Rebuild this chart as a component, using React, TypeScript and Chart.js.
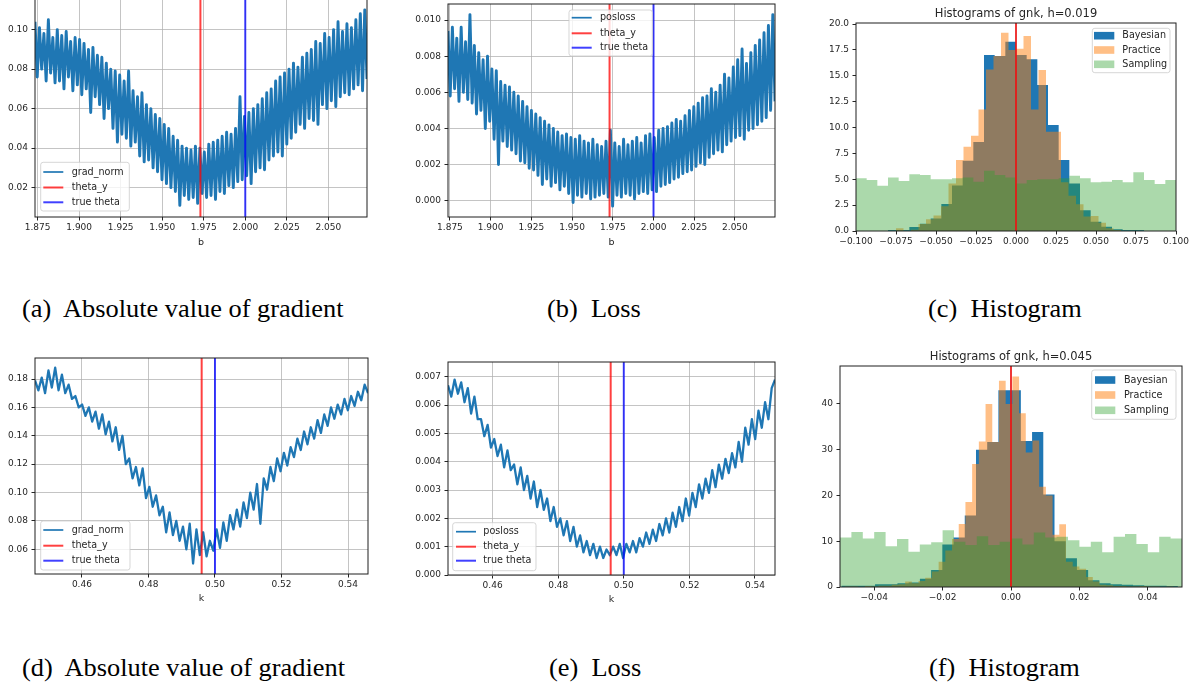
import React, { useEffect, useRef } from "react";
import { Chart, registerables } from "chart.js";

Chart.register(...registerables);
Chart.defaults.font.family = "'DejaVu Sans', sans-serif";

// ---------------- data ----------------
const B_RANGE_A = [1.8734, 2.0733];
const B_RANGE_B = [1.8738, 2.0746];
const K_RANGE_D = [0.4459, 0.546];
const K_RANGE_E = [0.4464, 0.5461];

const THETA_Y_B = 1.973;
const TRUE_THETA_B = 2.0;
const THETA_Y_K = 0.496;
const TRUE_THETA_K = 0.5;

// grad_norm vs b (panel a)
const GRAD_NORM_B = [
  0.104, 0.076, 0.101, 0.080, 0.098, 0.074, 0.105, 0.078, 0.096, 0.073,
  0.100, 0.074, 0.097, 0.070, 0.099, 0.076, 0.094, 0.069, 0.096, 0.072,
  0.095, 0.067, 0.093, 0.070, 0.090, 0.058, 0.091, 0.066, 0.087, 0.062,
  0.086, 0.055, 0.083, 0.060, 0.080, 0.050, 0.079, 0.043, 0.077, 0.047,
  0.074, 0.045, 0.079, 0.041, 0.069, 0.043, 0.066, 0.036, 0.068, 0.033,
  0.062, 0.034, 0.060, 0.030, 0.057, 0.028, 0.055, 0.024, 0.052, 0.022,
  0.050, 0.020, 0.046, 0.018, 0.044, 0.011, 0.041, 0.016, 0.040, 0.014,
  0.039, 0.015, 0.041, 0.012, 0.040, 0.017, 0.038, 0.015, 0.042, 0.016,
  0.043, 0.014, 0.044, 0.018, 0.046, 0.017, 0.048, 0.021, 0.047, 0.020,
  0.050, 0.023, 0.066, 0.024, 0.056, 0.026, 0.058, 0.022, 0.060, 0.028,
  0.062, 0.030, 0.065, 0.029, 0.068, 0.034, 0.070, 0.036, 0.074, 0.038,
  0.076, 0.036, 0.078, 0.042, 0.080, 0.045, 0.083, 0.048, 0.081, 0.052,
  0.086, 0.050, 0.088, 0.055, 0.090, 0.054, 0.094, 0.052, 0.093, 0.062,
  0.098, 0.060, 0.096, 0.064, 0.100, 0.061, 0.104, 0.066, 0.099, 0.068,
  0.103, 0.067, 0.101, 0.070, 0.105, 0.072, 0.108, 0.069, 0.110, 0.075,
];

// posloss vs b (panel b)
const POSLOSS_B = [
  0.0094, 0.0058, 0.0096, 0.0062, 0.0090, 0.0055, 0.0096, 0.0060, 0.0088, 0.0056,
  0.0103, 0.0054, 0.0086, 0.0048, 0.0082, 0.0050, 0.0078, 0.0040, 0.0080, 0.0044,
  0.0073, 0.0034, 0.0072, 0.0020, 0.0066, 0.0033, 0.0064, 0.0030, 0.0063, 0.0028,
  0.0060, 0.0026, 0.0058, 0.0022, 0.0055, 0.0021, 0.0052, 0.0018, 0.0050, 0.0017,
  0.0048, 0.0014, 0.0046, 0.0009, 0.0044, 0.0012, 0.0042, 0.0008, 0.0040, 0.0010,
  0.0038, 0.0006, 0.0036, 0.0008, 0.0037, 0.0004, 0.0035, -0.0001, 0.0034, 0.0003,
  0.0036, 0.0002, 0.0033, 0.0004, 0.0032, 0.0001, 0.0034, 0.0002, 0.0031, 0.0003,
  0.0030, 0.0004, 0.0033, 0.0002, 0.0039, -0.0003, 0.0032, 0.0003, 0.0030, 0.0002,
  0.0034, 0.0004, 0.0031, 0.0003, 0.0033, 0.0001, 0.0035, 0.0004, 0.0032, 0.0005,
  0.0036, 0.0004, 0.0037, 0.0006, 0.0035, 0.0005, 0.0039, 0.0008, 0.0040, 0.0009,
  0.0041, 0.0010, 0.0043, 0.0012, 0.0045, 0.0013, 0.0044, 0.0015, 0.0047, 0.0016,
  0.0050, 0.0017, 0.0052, 0.0019, 0.0054, 0.0021, 0.0057, 0.0020, 0.0058, 0.0024,
  0.0062, 0.0026, 0.0060, 0.0028, 0.0064, 0.0027, 0.0070, 0.0031, 0.0068, 0.0033,
  0.0074, 0.0035, 0.0078, 0.0036, 0.0084, 0.0034, 0.0076, 0.0039, 0.0082, 0.0040,
  0.0086, 0.0042, 0.0089, 0.0044, 0.0093, 0.0046, 0.0097, 0.0050, 0.0103, 0.0055,
];

// grad_norm vs k (panel d)
const GRAD_NORM_K = [
  0.179, 0.172, 0.181, 0.170, 0.186, 0.174, 0.188, 0.172, 0.183, 0.170,
  0.176, 0.166, 0.168, 0.160, 0.162, 0.154, 0.160, 0.150, 0.157, 0.145,
  0.155, 0.141, 0.150, 0.136, 0.146, 0.130, 0.140, 0.120, 0.124, 0.110,
  0.118, 0.105, 0.117, 0.096, 0.104, 0.090, 0.098, 0.084, 0.090, 0.072,
  0.086, 0.070, 0.080, 0.066, 0.076, 0.060, 0.078, 0.050, 0.074, 0.056,
  0.072, 0.055, 0.066, 0.059, 0.074, 0.061, 0.079, 0.066, 0.084, 0.074,
  0.088, 0.076, 0.093, 0.082, 0.100, 0.088, 0.106, 0.078, 0.110, 0.102,
  0.118, 0.108, 0.124, 0.115, 0.128, 0.119, 0.132, 0.125, 0.138, 0.130,
  0.143, 0.134, 0.146, 0.138, 0.151, 0.142, 0.155, 0.147, 0.160, 0.152,
  0.162, 0.155, 0.166, 0.158, 0.168, 0.161, 0.171, 0.165, 0.176, 0.170,
];

// posloss vs k (panel e)
const POSLOSS_K = [
  0.0067, 0.0063, 0.0069, 0.0064, 0.0068, 0.0061, 0.0066, 0.0057, 0.0063, 0.0055,
  0.0055, 0.0049, 0.0053, 0.0045, 0.0048, 0.0042, 0.0046, 0.0038, 0.0044, 0.0037,
  0.0039, 0.0032, 0.0038, 0.0030, 0.0035, 0.0027, 0.0033, 0.0024, 0.0030, 0.0023,
  0.0027, 0.0019, 0.0024, 0.0017, 0.0020, 0.0014, 0.0019, 0.0012, 0.0017, 0.0010,
  0.0014, 0.0008, 0.0012, 0.0007, 0.0011, 0.0006, 0.0010, 0.0006, 0.0009, 0.0007,
  0.0010, 0.0007, 0.0011, 0.0006, 0.0011, 0.0008, 0.0012, 0.0008, 0.0013, 0.0010,
  0.0015, 0.0011, 0.0016, 0.0012, 0.0018, 0.0014, 0.0020, 0.0015, 0.0022, 0.0017,
  0.0024, 0.0019, 0.0027, 0.0021, 0.0029, 0.0024, 0.0032, 0.0027, 0.0034, 0.0029,
  0.0037, 0.0031, 0.0039, 0.0034, 0.0041, 0.0036, 0.0043, 0.0038, 0.0047, 0.0040,
  0.0052, 0.0046, 0.0055, 0.0048, 0.0058, 0.0052, 0.0061, 0.0055, 0.0066, 0.0069,
];

// histograms, h = 0.019 (panel c): bin range + counts (density)
const C_BAYES_RANGE = [-0.08, 0.08];
const C_BAYES = [0.1, 0.1, 0.39, 0.7, 1.22, 2.6, 4.4, 6.8, 8.6, 17.0, 16.9, 18.3, 17.0, 16.6, 14.1, 10.24, 6.86, 4.6, 2.0, 0.9, 0.42, 0.16, 0.1, 0.1];
const C_PRACTICE_RANGE = [-0.075, 0.075];
const C_PRACTICE = [0.26, 0, 0.13, 0.68, 1.13, 1.5, 2.4, 4.6, 6.86, 8.15, 9.2, 11.75, 15.6, 16.9, 19.16, 17.5, 17.6, 18.84, 11.75, 15.55, 9.6, 9.6, 4.7, 3.4, 2.58, 1.4, 1.45, 0.8, 0.26, 0.1, 0, 0];
const C_SAMPLING_RANGE = [-0.1, 0.1];
const C_SAMPLING = [5.09, 4.93, 4.38, 5.18, 4.83, 5.48, 5.41, 4.99, 4.99, 5.09, 5.18, 4.77, 5.83, 5.41, 5.18, 4.6, 4.93, 4.99, 4.99, 5.09, 5.35, 5.09, 4.7, 4.77, 4.93, 4.7, 5.67, 4.93, 4.54, 4.93];

// histograms, h = 0.045 (panel f)
const F_BAYES_RANGE = [-0.0496, 0.0488];
const F_BAYES = [0.3, 0.3, 0.3, 0.6, 0.6, 0.8, 1.0, 1.8, 3.7, 9.3, 10.8, 15.6, 30.0, 31.7, 43.0, 43.0, 31.9, 33.9, 20.2, 10.0, 6.3, 3.7, 1.5, 0.8, 0.6, 0.5, 0.4, 0.3, 0.3, 0.2];
const F_PRACTICE_RANGE = [-0.0486, 0.0494];
const F_PRACTICE = [
  0.1, 0.1, 0, 0.2, 0.1, 0.3, 0.3, 0.5, 0.6, 1.2,
  0.8, 1.3, 2.0, 3.4, 5.5, 8.0, 10.5, 13.75, 18.6, 26.9,
  31.8, 40.0, 31.7, 45.1, 40.0, 46.0, 38.0, 29.4, 32.0, 21.9,
  20.0, 11.4, 13.7, 5.5, 4.5, 4.0, 2.2, 1.2, 0.5, 0.4,
  0.2, 0.2, 0.1, 0.1, 0.2, 0.1, 0.1, 0, 0.1, 0,
];
const F_SAMPLING_RANGE = [-0.05, 0.05];
const F_SAMPLING = [10.8, 12.0, 10.6, 12.0, 8.9, 10.5, 7.7, 9.3, 9.8, 12.4, 9.9, 9.2, 11.1, 9.2, 9.9, 10.6, 9.3, 11.9, 10.8, 11.0, 10.2, 8.8, 9.9, 7.6, 11.0, 11.6, 9.4, 7.6, 11.0, 10.6];
const THETA_HIST = 0.0;

// ticks
const X_TICKS_B = [1.875, 1.9, 1.925, 1.95, 1.975, 2.0, 2.025, 2.05];
const Y_TICKS_A = [0.02, 0.04, 0.06, 0.08, 0.1];
const Y_TICKS_B = [0, 0.002, 0.004, 0.006, 0.008, 0.01];
const X_TICKS_C = [-0.1, -0.075, -0.05, -0.025, 0, 0.025, 0.05, 0.075, 0.1];
const Y_TICKS_C = [0, 2.5, 5, 7.5, 10, 12.5, 15, 17.5, 20];
const X_TICKS_K = [0.46, 0.48, 0.5, 0.52, 0.54];
const Y_TICKS_D = [0.06, 0.08, 0.1, 0.12, 0.14, 0.16, 0.18];
const Y_TICKS_E = [0, 0.001, 0.002, 0.003, 0.004, 0.005, 0.006, 0.007];
const X_TICKS_F = [-0.04, -0.02, 0, 0.02, 0.04];
const Y_TICKS_F = [0, 10, 20, 30, 40];

const CAPTIONS = [
  "(a)  Absolute value of gradient",
  "(b)  Loss",
  "(c)  Histogram",
  "(d)  Absolute value of gradient",
  "(e)  Loss",
  "(f)  Histogram",
];

// ---------------- helpers ----------------
const C0 = "#1f77b4";
const RED = "rgba(255,0,0,0.75)";
const BLUE = "rgba(0,0,255,0.75)";
const PRACTICE_COL = "rgba(255,127,14,0.5)";
const SAMPLING_COL = "rgba(44,160,44,0.4)";
const TEXT = "#262626";

const fmt = (v: number, d: number) => (v < -1e-12 ? "\u2212" : "") + Math.abs(v).toFixed(d);

function lineSeries(range: number[], values: number[]) {
  const n = values.length;
  return values.map((y, i) => ({ x: range[0] + ((range[1] - range[0]) * i) / (n - 1), y }));
}

function histSeries(range: number[], counts: number[]) {
  const n = counts.length;
  const w = (range[1] - range[0]) / n;
  const pts = counts.map((c, i) => ({ x: range[0] + i * w, y: c }));
  pts.push({ x: range[1], y: counts[n - 1] });
  return pts;
}

function vline(x: number, yr: number[]) {
  return [{ x, y: yr[0] }, { x, y: yr[1] }];
}

type LegendCfg = {
  box: number[];
  rows: number[];
  handleX: number;
  handleW: number;
  textX: number;
  items: { ds: number; type: "line" | "patch" }[];
};

type Panel = {
  canvas: { left: number; top: number; w: number; h: number };
  pad: { left: number; top: number; right: number; bottom: number };
  yAxisW: number;
  xAxisH: number;
  xRange: number[];
  yRange: number[];
  xTicks: number[];
  yTicks: number[];
  xDec: number;
  yDec: number;
  xLabel?: string;
  title?: string;
  grid: boolean;
  datasets: any[];
  legend: LegendCfg;
};

function lineDatasets(label: string, range: number[], values: number[], thetaY: number, trueTheta: number, yr: number[], lw: number) {
  return [
    { label, data: lineSeries(range, values), borderColor: C0, borderWidth: lw, pointRadius: 0, borderJoinStyle: "round", fill: false, order: 2 },
    { label: "theta_y", data: vline(thetaY, yr), borderColor: RED, borderWidth: 2, pointRadius: 0, fill: false, order: 1 },
    { label: "true theta", data: vline(trueTheta, yr), borderColor: BLUE, borderWidth: 2, pointRadius: 0, fill: false, order: 0 },
  ];
}

function histDatasets(b: number[], br: number[], p: number[], pr: number[], s: number[], sr: number[], theta: number, yr: number[]) {
  const base = { borderColor: "rgba(0,0,0,0)", borderWidth: 0, pointRadius: 0, stepped: true, fill: "origin" };
  return [
    { ...base, label: "Bayesian", data: histSeries(br, b), backgroundColor: C0, order: 3 },
    { ...base, label: "Practice", data: histSeries(pr, p), backgroundColor: PRACTICE_COL, order: 2 },
    { ...base, label: "Sampling", data: histSeries(sr, s), backgroundColor: SAMPLING_COL, order: 1 },
    { label: "theta", data: vline(theta, yr), borderColor: "rgba(235,20,20,0.85)", borderWidth: 2, pointRadius: 0, fill: false, order: 0 },
  ];
}

const YR_A = [0.0051, 0.116];
const YR_B = [-0.000903, 0.01089];
const YR_C = [0, 20.1];
const YR_D = [0.0426, 0.1948];
const YR_E = [0, 0.00752];
const YR_F = [0, 48.3];

const lineLegend = (box: number[], rows: number[], handleX: number, textX: number): LegendCfg => ({
  box, rows, handleX, handleW: 20, textX,
  items: [{ ds: 0, type: "line" }, { ds: 1, type: "line" }, { ds: 2, type: "line" }],
});
const histLegend = (box: number[], rows: number[], handleX: number, textX: number): LegendCfg => ({
  box, rows, handleX, handleW: 20.3, textX,
  items: [{ ds: 0, type: "patch" }, { ds: 1, type: "patch" }, { ds: 2, type: "patch" }],
});

const PANELS: Panel[] = [
  {
    canvas: { left: 0, top: -20, w: 400, h: 270 },
    pad: { left: 0, top: 18, right: 33, bottom: 0 },
    yAxisW: 35, xAxisH: 33,
    xRange: B_RANGE_A, yRange: YR_A, xTicks: X_TICKS_B, yTicks: Y_TICKS_A, xDec: 3, yDec: 2, xLabel: "b", grid: true,
    datasets: lineDatasets("grad_norm", B_RANGE_A, GRAD_NORM_B, THETA_Y_B, TRUE_THETA_B, YR_A, 2.9),
    legend: lineLegend([40.7, 162.3, 88.6, 48.7], [172, 187.5, 202.3], 43.3, 71.7),
  },
  {
    canvas: { left: 400, top: -6, w: 400, h: 256 },
    pad: { left: 0, top: 10, right: 25, bottom: 0 },
    yAxisW: 48, xAxisH: 33,
    xRange: B_RANGE_B, yRange: YR_B, xTicks: X_TICKS_B, yTicks: Y_TICKS_B, xDec: 3, yDec: 3, xLabel: "b", grid: true,
    datasets: lineDatasets("posloss", B_RANGE_B, POSLOSS_B, THETA_Y_B, TRUE_THETA_B, YR_B, 2.9),
    legend: lineLegend([569, 10, 83.3, 46], [17.7, 33.3, 47.7], 571.7, 600),
  },
  {
    canvas: { left: 810, top: 0, w: 386, h: 251 },
    pad: { left: 0, top: 23, right: 20, bottom: 0 },
    yAxisW: 46, xAxisH: 20,
    xRange: C_SAMPLING_RANGE, yRange: YR_C, xTicks: X_TICKS_C, yTicks: Y_TICKS_C, xDec: 3, yDec: 1,
    title: "Histograms of gnk, h=0.019", grid: false,
    datasets: histDatasets(C_BAYES, C_BAYES_RANGE, C_PRACTICE, C_PRACTICE_RANGE, C_SAMPLING, C_SAMPLING_RANGE, THETA_HIST, YR_C),
    legend: histLegend([1092.3, 28.3, 77.7, 44.4], [35.7, 50, 64.3], 1094, 1122.3),
  },
  {
    canvas: { left: 0, top: 340, w: 400, h: 266 },
    pad: { left: 0, top: 18, right: 32, bottom: 0 },
    yAxisW: 35, xAxisH: 32,
    xRange: K_RANGE_D, yRange: YR_D, xTicks: X_TICKS_K, yTicks: Y_TICKS_D, xDec: 2, yDec: 2, xLabel: "k", grid: true,
    datasets: lineDatasets("grad_norm", K_RANGE_D, GRAD_NORM_K, THETA_Y_K, TRUE_THETA_K, YR_D, 2.3),
    legend: lineLegend([40.7, 521, 89.3, 49], [530, 545.7, 560.7], 43.3, 71.7),
  },
  {
    canvas: { left: 400, top: 340, w: 400, h: 267 },
    pad: { left: 0, top: 22, right: 25, bottom: 0 },
    yAxisW: 48, xAxisH: 32,
    xRange: K_RANGE_E, yRange: YR_E, xTicks: X_TICKS_K, yTicks: Y_TICKS_E, xDec: 2, yDec: 3, xLabel: "k", grid: true,
    datasets: lineDatasets("posloss", K_RANGE_E, POSLOSS_K, THETA_Y_K, TRUE_THETA_K, YR_E, 2.3),
    legend: lineLegend([452.7, 522.7, 83.3, 48], [531.7, 546.7, 560.7], 456, 483.3),
  },
  {
    canvas: { left: 800, top: 340, w: 396, h: 267 },
    pad: { left: 0, top: 26, right: 14, bottom: 0 },
    yAxisW: 40, xAxisH: 20,
    xRange: F_SAMPLING_RANGE, yRange: YR_F, xTicks: X_TICKS_F, yTicks: Y_TICKS_F, xDec: 2, yDec: 0,
    title: "Histograms of gnk, h=0.045", grid: false,
    datasets: histDatasets(F_BAYES, F_BAYES_RANGE, F_PRACTICE, F_PRACTICE_RANGE, F_SAMPLING, F_SAMPLING_RANGE, THETA_HIST, YR_F),
    legend: histLegend([1091.7, 370, 84.3, 49.3], [380, 395, 410.3], 1095, 1124),
  },
];

const CAPTION_POS = [
  { left: 22, top: 296 },
  { left: 547, top: 296 },
  { left: 928, top: 296 },
  { left: 22, top: 655 },
  { left: 549, top: 655 },
  { left: 929, top: 655 },
];

function makePlugins(p: Panel) {
  const ox = p.canvas.left;
  const oy = p.canvas.top;
  const frame = {
    id: "frame",
    afterDatasetsDraw(chart: any) {
      const { left, top, right, bottom } = chart.chartArea;
      const ctx = chart.ctx;
      ctx.save();
      ctx.strokeStyle = "#1e1e1e";
      ctx.lineWidth = 1;
      ctx.strokeRect(left, top, right - left, bottom - top);
      if (p.title) {
        ctx.fillStyle = TEXT;
        ctx.font = "11.5px 'DejaVu Sans'";
        ctx.textAlign = "center";
        ctx.textBaseline = "alphabetic";
        ctx.fillText(p.title, (left + right) / 2, top - 6.3);
      }
      ctx.restore();
    },
  };
  const legend = {
    id: "mplLegend",
    afterDraw(chart: any) {
      const L = p.legend;
      const ctx = chart.ctx;
      const [bx, by, bw, bh] = [L.box[0] - ox, L.box[1] - oy, L.box[2], L.box[3]];
      ctx.save();
      const r = 2.5;
      ctx.beginPath();
      ctx.moveTo(bx + r, by);
      ctx.lineTo(bx + bw - r, by);
      ctx.quadraticCurveTo(bx + bw, by, bx + bw, by + r);
      ctx.lineTo(bx + bw, by + bh - r);
      ctx.quadraticCurveTo(bx + bw, by + bh, bx + bw - r, by + bh);
      ctx.lineTo(bx + r, by + bh);
      ctx.quadraticCurveTo(bx, by + bh, bx, by + bh - r);
      ctx.lineTo(bx, by + r);
      ctx.quadraticCurveTo(bx, by, bx + r, by);
      ctx.closePath();
      ctx.fillStyle = "rgba(255,255,255,0.8)";
      ctx.fill();
      ctx.strokeStyle = "rgba(204,204,204,0.8)";
      ctx.lineWidth = 1;
      ctx.stroke();
      L.items.forEach((it, i) => {
        const ds = chart.data.datasets[it.ds];
        const y = L.rows[i] - oy;
        const hx = L.handleX - ox;
        if (it.type === "line") {
          ctx.strokeStyle = ds.borderColor;
          ctx.lineWidth = it.ds === 0 ? 1.7 : 2;
          ctx.beginPath();
          ctx.moveTo(hx, y);
          ctx.lineTo(hx + L.handleW, y);
          ctx.stroke();
        } else {
          ctx.fillStyle = ds.backgroundColor;
          ctx.fillRect(hx, y - 3.8, L.handleW, 7.6);
        }
        ctx.fillStyle = TEXT;
        ctx.font = "9.6px 'DejaVu Sans'";
        ctx.textAlign = "left";
        ctx.textBaseline = "middle";
        ctx.fillText(ds.label, L.textX - ox, y);
      });
      ctx.restore();
    },
  };
  return [frame, legend];
}

function buildConfig(p: Panel): any {
  const gridOpts = {
    display: true,
    drawOnChartArea: p.grid,
    color: "rgba(176,176,176,0.75)",
    lineWidth: 1,
    tickLength: 3.5,
    tickColor: "#262626",
    tickWidth: 1,
  };
  return {
    type: "line",
    data: { datasets: p.datasets },
    options: {
      animation: false,
      responsive: false,
      maintainAspectRatio: false,
      devicePixelRatio: 1,
      events: [],
      layout: { padding: p.pad },
      plugins: { legend: { display: false }, tooltip: { enabled: false }, title: { display: false } },
      scales: {
        x: {
          type: "linear",
          min: p.xRange[0],
          max: p.xRange[1],
          bounds: "data",
          afterBuildTicks: (s: any) => { s.ticks = p.xTicks.map((v) => ({ value: v })); },
          afterFit: (s: any) => { s.height = p.xAxisH; },
          ticks: {
            autoSkip: false, maxRotation: 0, minRotation: 0, padding: 2, includeBounds: false,
            color: TEXT, font: { size: 9 },
            callback: (v: number) => fmt(v, p.xDec),
          },
          grid: gridOpts,
          border: { display: false },
          title: p.xLabel
            ? { display: true, text: p.xLabel, color: TEXT, font: { size: 9.5 }, padding: { top: 0, bottom: 2 } }
            : { display: false },
        },
        y: {
          type: "linear",
          min: p.yRange[0],
          max: p.yRange[1],
          bounds: "data",
          afterBuildTicks: (s: any) => { s.ticks = p.yTicks.map((v) => ({ value: v })); },
          afterFit: (s: any) => { s.width = p.yAxisW; },
          ticks: {
            autoSkip: false, padding: 3.5, includeBounds: false,
            color: TEXT, font: { size: 9 },
            callback: (v: number) => fmt(v, p.yDec),
          },
          grid: gridOpts,
          border: { display: false },
        },
      },
    },
    plugins: makePlugins(p),
  };
}

function PanelChart({ p }: { p: Panel }) {
  const ref = useRef<HTMLCanvasElement | null>(null);
  useEffect(() => {
    if (!ref.current) return;
    const chart = new Chart(ref.current, buildConfig(p));
    return () => chart.destroy();
  }, [p]);
  return (
    <canvas
      ref={ref}
      width={p.canvas.w}
      height={p.canvas.h}
      style={{ position: "absolute", left: p.canvas.left, top: p.canvas.top, width: p.canvas.w, height: p.canvas.h }}
    />
  );
}

export default function App() {
  return (
    <div
      style={{
        position: "fixed", left: 0, top: 0, width: 1196, height: 685,
        overflow: "hidden", background: "#ffffff",
      }}
    >
      {PANELS.map((p, i) => (
        <PanelChart key={i} p={p} />
      ))}
      {CAPTIONS.map((c, i) => (
        <div
          key={"cap" + i}
          style={{
            position: "absolute", left: CAPTION_POS[i].left, top: CAPTION_POS[i].top,
            fontFamily: "'Liberation Serif', 'Times New Roman', serif", fontSize: 25, lineHeight: "25px",
            whiteSpace: "pre", color: "#000", transform: "scaleX(1.055)", transformOrigin: "0 0",
          }}
        >
          {c}
        </div>
      ))}
    </div>
  );
}
